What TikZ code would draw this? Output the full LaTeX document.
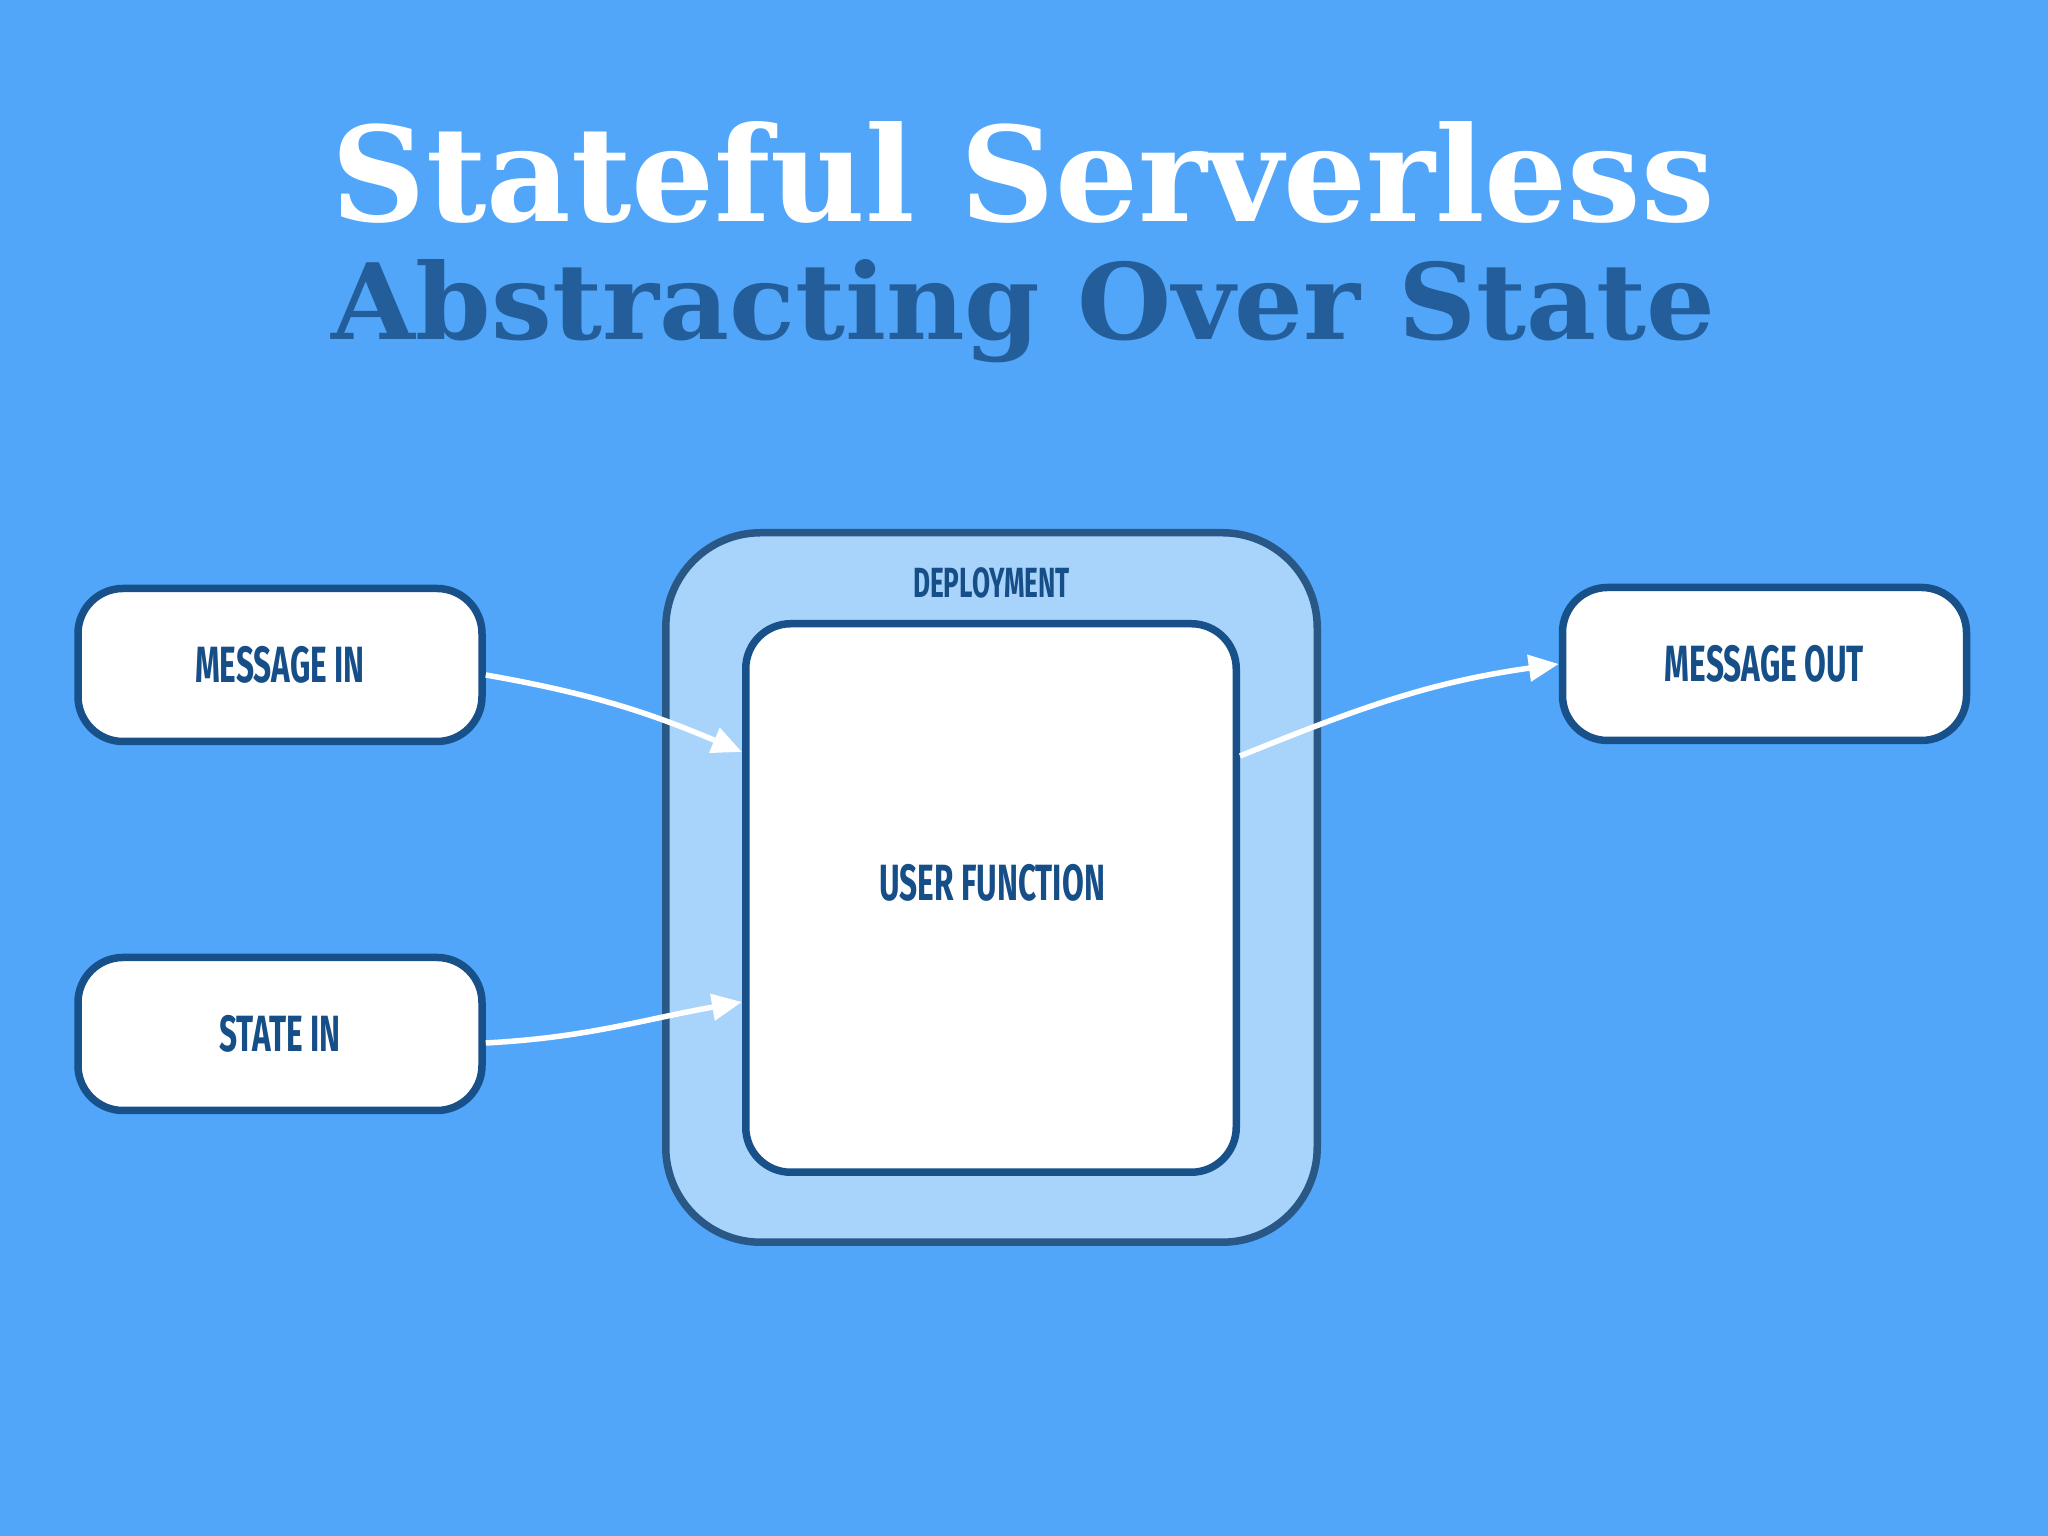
\documentclass[tikz,border=0pt]{standalone}
\usepackage{fontspec}
\usepackage{graphicx}
\setmainfont{DejaVu Serif}
\newfontfamily\headfont{DejaVu Serif}
\newfontfamily\tagfont[FakeStretch=0.62]{Fira Sans}
\usetikzlibrary{arrows.meta,positioning}
\definecolor{skyblue}{HTML}{51A6F9}
\definecolor{deployfill}{HTML}{A8D3FA}
\definecolor{deployline}{HTML}{2A5886}
\definecolor{boxline}{HTML}{18508A}
\definecolor{tagblue}{HTML}{164E88}
\definecolor{subblue}{HTML}{245E9A}
\tikzset{
	chunk/.style={draw=boxline, line width=0.075cm, fill=white, rounded corners=0.45cm, minimum width=4.04cm, minimum height=1.53cm, text=tagblue, font=\tagfont\bfseries\fontsize{14.5}{16}\selectfont},
	flow/.style={draw=white, line width=0.055cm, -{Triangle[length=0.3cm,width=0.26cm]}}
}
\newcommand{\headline}[3]{\resizebox{13.83cm}{#1}{\headfont\bfseries\color{#2}#3}}

\begin{document}
\begin{tikzpicture}
	\fill[skyblue] (0,0) rectangle (20.48,15.36);
	\useasboundingbox (0,0) rectangle (20.48,15.36);
%
	\node[anchor=base, inner sep=0] (title) at (10.235,13.14) {\headline{1.0cm}{white}{Stateful Serverless}};
	\node[anchor=base, inner sep=0] (subtitle) at (10.235,11.96) {\headline{0.8cm}{subblue}{Abstracting Over State}};
%
	\node[draw=deployline, fill=deployfill, line width=0.075cm, rounded corners=0.95cm, minimum width=6.515cm, minimum height=7.095cm] (deploy) at (9.915,6.485) {};
	\node[text=tagblue, font=\tagfont\bfseries\fontsize{12}{14}\selectfont] (deploytag) at (9.915,9.535) {DEPLOYMENT};
	\node[chunk, rounded corners=0.45cm, minimum width=4.905cm, minimum height=5.485cm] (userfn) at (9.91,6.38) {};
	\node[text=tagblue, font=\tagfont\bfseries\fontsize{14.5}{17}\selectfont] (userfntag) at (9.92,6.53) {USER FUNCTION};
%
	\node[chunk] (msgin) at (2.80,8.71) {MESSAGE IN};
	\node[chunk] (statein) at (2.80,5.02) {STATE IN};
	\node[chunk] (msgout) at (17.645,8.72) {MESSAGE OUT};
%
	\draw[flow] ([yshift=-0.1cm]msgin.east) to[out=-10,in=157] ([yshift=1.46cm]userfn.west);
	\draw[flow] ([yshift=-0.09cm]statein.east) to[out=3,in=190] ([yshift=-1.04cm]userfn.west);
	\draw[flow] ([yshift=1.42cm]userfn.east) to[out=22,in=188] (msgout.west);
\end{tikzpicture}
\end{document}
